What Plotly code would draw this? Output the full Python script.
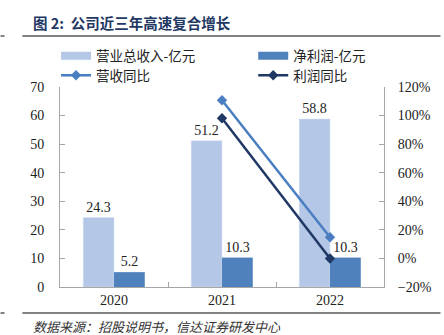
import plotly.graph_objects as go

years = ["2020", "2021", "2022"]
revenue = [24.3, 51.2, 58.8]
profit = [5.2, 10.3, 10.3]
rev_yoy = [None, 110.7, 14.8]
profit_yoy = [None, 98.1, 0.0]

W, H = 444, 335
L, R, T, B = 60, 57, 87, 48
pw, ph = W - L - R, H - T - B

def px(x):
    return (x - L) / pw

def py(y):
    return (H - B - y) / ph

serif = "Liberation Serif, Times New Roman, serif"
cjk = "Noto Sans CJK SC, sans-serif"
c_rev, c_pro = "#B4C7E7", "#4F81BD"
c_ryoy, c_pyoy = "#4A7EC1", "#1F3864"

fig = go.Figure()
fig.add_trace(go.Bar(
    x=years, y=revenue, name="营业总收入-亿元", showlegend=False,
    marker=dict(color=c_rev, line=dict(color="#D6E1F2", width=0.5)),
    text=[f"{v:.1f}" for v in revenue], textposition="outside",
    textfont=dict(family=serif, size=14, color="#222"), cliponaxis=False,
))
fig.add_trace(go.Bar(
    x=years, y=profit, name="净利润-亿元", showlegend=False,
    marker=dict(color=c_pro, line=dict(width=0)),
    text=[f"{v:.1f}" for v in profit], textposition="outside",
    textfont=dict(family=serif, size=14, color="#222"), cliponaxis=False,
))
fig.add_trace(go.Scatter(
    x=years, y=rev_yoy, name="营收同比", yaxis="y2", mode="lines+markers",
    line=dict(color=c_ryoy, width=2.5), legend="legend3",
    marker=dict(symbol="diamond", size=8, color=c_ryoy),
))
fig.add_trace(go.Scatter(
    x=years, y=profit_yoy, name="利润同比", yaxis="y2", mode="lines+markers",
    line=dict(color=c_pyoy, width=2.5), legend="legend4",
    marker=dict(symbol="diamond", size=8, color=c_pyoy),
))
# legend-only entries for bars (wide rectangle symbols)
fig.add_trace(go.Scatter(
    x=[None], y=[None], name="营业总收入-亿元", mode="lines",
    line=dict(color=c_rev, width=8), legend="legend", hoverinfo="skip",
))
fig.add_trace(go.Scatter(
    x=[None], y=[None], name="净利润-亿元", mode="lines",
    line=dict(color=c_pro, width=8), legend="legend2", hoverinfo="skip",
))

leg_font = dict(family=cjk, size=13.5, color="#222")

def leg(x, y):
    return dict(x=px(x), y=py(y), xanchor="left", yanchor="middle",
                font=leg_font, bgcolor="rgba(0,0,0,0)", itemwidth=30,
                orientation="h")

fig.update_layout(
    width=W, height=H,
    margin=dict(l=L, r=R, t=T, b=B, pad=0),
    paper_bgcolor="white", plot_bgcolor="white",
    barmode="group", bargap=0.43, bargroupgap=0,
    showlegend=True,
    legend=leg(56, 56),
    legend2=leg(255, 56),
    legend3=leg(56, 75.5),
    legend4=leg(255, 75.5),
    xaxis=dict(
        type="category", showline=True, linecolor="#A6A6A6", linewidth=1,
        ticks="inside", tickson="boundaries", ticklen=5, tickcolor="#A6A6A6",
        tickfont=dict(family=serif, size=14, color="#222"), showgrid=False,
    ),
    yaxis=dict(
        range=[0, 70], dtick=10, showline=True, linecolor="#A6A6A6", linewidth=1,
        ticks="inside", ticklen=5, tickcolor="#A6A6A6", showgrid=False, zeroline=False,
        tickfont=dict(family=serif, size=14, color="#222"), ticklabelstandoff=12,
    ),
    yaxis2=dict(
        range=[-20, 120], dtick=20, ticksuffix="%", overlaying="y", side="right",
        showline=True, linecolor="#A6A6A6", linewidth=1,
        ticks="inside", ticklen=5, tickcolor="#A6A6A6", showgrid=False, zeroline=False,
        tickfont=dict(family=serif, size=14, color="#222"), ticklabelstandoff=10,
    ),
    annotations=[
        dict(text="<b>图 2:  公司近三年高速复合增长</b>", xref="paper", yref="paper",
             x=px(31), y=py(22), xanchor="left", yanchor="middle", showarrow=False,
             font=dict(family=cjk, size=14.5, color="#1F3864")),
        dict(text="<i>数据来源：招股说明书，信达证券研发中心</i>", xref="paper", yref="paper",
             x=px(31), y=py(326), xanchor="left", yanchor="middle", showarrow=False,
             font=dict(family=cjk, size=13, color="#333")),
    ],
    shapes=[
        dict(type="line", xref="paper", yref="paper", x0=px(22), x1=px(444), y0=py(36), y1=py(36),
             line=dict(color="#595959", width=1.5)),
        dict(type="line", xref="paper", yref="paper", x0=px(0), x1=px(4), y0=py(36), y1=py(36),
             line=dict(color="#595959", width=1.5)),
        dict(type="line", xref="paper", yref="paper", x0=px(22), x1=px(444), y0=py(313), y1=py(313),
             line=dict(color="#595959", width=1.5)),
        dict(type="line", xref="paper", yref="paper", x0=px(0), x1=px(4), y0=py(313), y1=py(313),
             line=dict(color="#595959", width=1.5)),
    ],
)

fig.write_html("out.html")
